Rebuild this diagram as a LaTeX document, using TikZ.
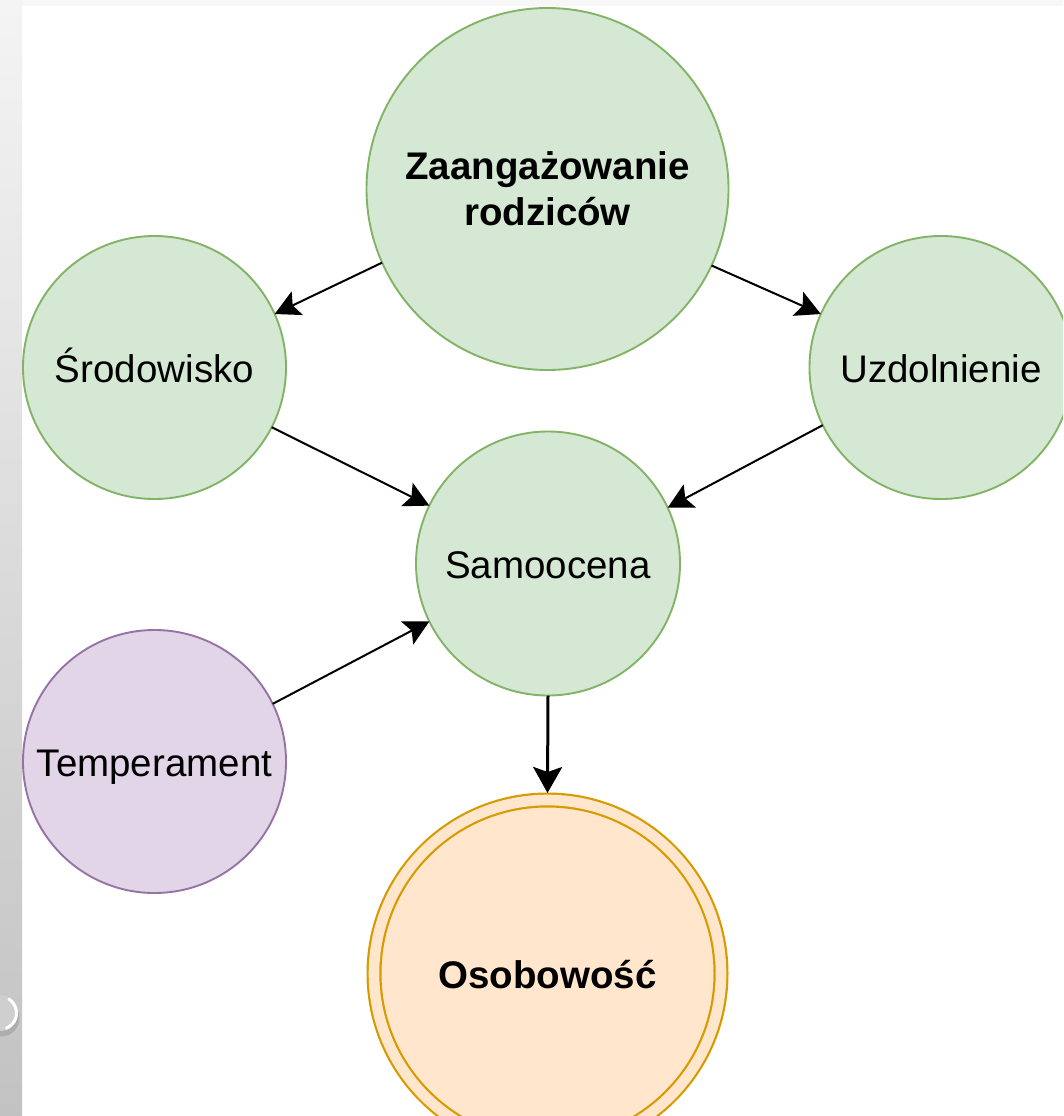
\documentclass[tikz,border=0pt]{standalone}
\usepackage{fontspec}
\setmainfont{Liberation Sans}
\usetikzlibrary{arrows.meta}
\definecolor{gfill}{HTML}{D5E8D4}
\definecolor{gline}{HTML}{82B366}
\definecolor{pfill}{HTML}{E1D5E7}
\definecolor{pline}{HTML}{9673A6}
\definecolor{ofill}{HTML}{FFE6CC}
\definecolor{oline}{HTML}{D79B00}
\definecolor{striptop}{HTML}{F4F4F4}
\definecolor{stripmid}{HTML}{E6E6E6}
\definecolor{stripbot}{HTML}{C2C2C2}
\definecolor{topband}{HTML}{F7F7F7}
\definecolor{btnfill}{HTML}{CFCFCF}
\definecolor{btnshadow}{HTML}{8A8A8A}
\begin{document}
\begin{tikzpicture}[x=1pt,y=-1pt,
  circnode/.style={circle, draw=gline, fill=gfill, line width=1.9pt, inner sep=0pt, outer sep=0pt,
    font=\fontsize{38.5}{46}\selectfont},
  onelinetext/.style={text height=30pt, text depth=0pt},
  conn/.style={line width=2pt, -{Stealth[length=25pt,width=26pt,inset=5pt]}},
  connthick/.style={line width=3pt, -{Stealth[length=26pt,width=29pt,inset=5pt]}},
]
\useasboundingbox (0,0) rectangle (1063,1116);
\clip (0,0) rectangle (1063,1116);
\fill[white] (0,0) rectangle (1063,1116);
% page decorations
\fill[topband] (22,0) rectangle (1063,6);
\shade[top color=striptop, middle color=stripmid, bottom color=stripbot] (0,0) rectangle (22,1116);
\fill[btnshadow!70] (1,1018) circle (18.5);
\fill[btnfill] (0,1013) circle (18);
\draw[white, line width=3pt] ([shift={(0,1013)}]70:16.5) arc (70:-60:16.5);

% nodes
\node[circnode, minimum size=362pt, align=center, font=\fontsize{38.5}{46}\selectfont\bfseries] (zaang) at (547.5,189) {Zaangażowanie\\rodziców};
\node[circnode, onelinetext, minimum size=263pt] (srod) at (154.5,367.5) {Środowisko};
\node[circnode, onelinetext, minimum size=263pt] (uzd) at (941,367.5) {Uzdolnienie};
\node[circnode, onelinetext, minimum size=264pt] (samo) at (548,563.5) {Samoocena};
\node[circnode, onelinetext, minimum size=263pt, draw=pline, fill=pfill] (temp) at (154.5,761.5) {Temperament};
\node[circnode, onelinetext, minimum size=347pt, draw=oline, fill=ofill, double=ofill,
  line width=2.2pt, double distance=10.6pt, outer sep=7pt,
  font=\fontsize{38.5}{46}\selectfont\bfseries] (oso) at (547.5,973.5) {Osobowość};

% connectors
\draw[conn] (zaang.204.8) -- (srod.24);
\draw[conn] (zaang.335.4) -- (uzd.156.5);
\draw[conn] (srod.333.3) -- (samo.154.2);
\draw[conn] (uzd.206.8) -- (samo.25.8);
\draw[conn] (temp.26.3) -- (samo.206.6);
\draw[connthick] (samo.south) -- (oso.north);
\end{tikzpicture}
\end{document}
